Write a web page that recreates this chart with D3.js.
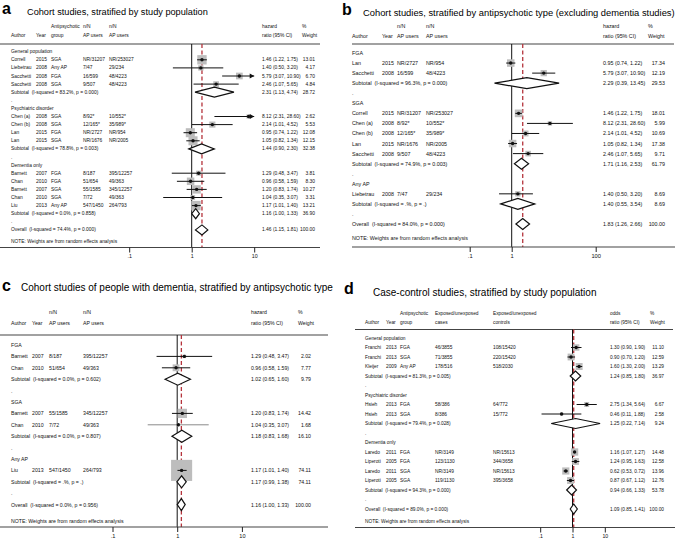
<!DOCTYPE html>
<html><head><meta charset="utf-8">
<script src="https://cdn.jsdelivr.net/npm/d3@7"></script>
<style>body{margin:0;background:#fff}svg{display:block}text{font-family:"Liberation Sans",Arial,sans-serif;white-space:pre}</style>
</head><body>
<script>
// ---------------- DATA ----------------
// Panel a
const aKind = ["g","s","s","s","s","t","b","g","s","s","s","s","t","b","g","s","s","s","s","s","t","b","o"];
const aAuthor = ["General population","Correll","Liebetrau","Sacchetti","Sacchetti","Subtotal  (I-squared = 83.2%, p = 0.000)",".","Psychiatric disorder","Chen (a)","Chen (b)","Lan","Lan","Subtotal  (I-squared = 78.8%, p = 0.003)",".","Dementia only","Barnett","Chan","Barnett","Chan","Liu","Subtotal  (I-squared = 0.0%, p = 0.858)",".","Overall  (I-squared = 74.4%, p = 0.000)"];
const aYear = ["","2015","2008","2008","2008","","","","2008","2008","2015","2015","","","","2007","2010","2007","2010","2013","","",""];
const aGroup = ["","SGA","Any AP","FGA","SGA","","","","SGA","SGA","FGA","SGA","","","","FGA","FGA","SGA","SGA","Any AP","","",""];
const aN1 = ["","NR/31207","7/47","16/599","9/507","","","","8/92*","12/165*","NR/2727","NR/1676","","","","8/187","51/654","55/1585","7/72","547/1450","","",""];
const aN2 = ["","NR/253027","29/234","48/4223","48/4223","","","","10/552*","35/989*","NR/954","NR/2005","","","","395/12257","49/363","345/12257","49/363","264/793","","",""];
const aHR = [null,1.46,1.40,5.79,2.46,2.31,null,null,8.12,2.14,0.95,1.05,1.44,null,null,1.29,0.96,1.20,1.04,1.17,1.16,null,1.46];
const aLo = [null,1.22,0.50,3.07,1.07,1.13,null,null,2.31,1.01,0.74,0.82,0.90,null,null,0.48,0.58,0.83,0.35,1.01,1.00,null,1.15];
const aHi = [null,1.75,3.20,10.90,5.65,4.74,null,null,28.60,4.52,1.22,1.34,2.30,null,null,3.47,1.59,1.74,3.07,1.40,1.33,null,1.81];
const aWt = [null,13.01,4.17,6.70,4.84,28.72,null,null,2.62,5.53,12.08,12.15,32.38,null,null,3.81,8.30,10.27,3.31,13.21,36.90,null,100.00];
const aHead1 = ["","","Antipsychotic","n/N","n/N","hazard","%"];
const aHead2 = ["Author","Year","group","AP users","AP users","ratio (95% CI)","Weight"];
const aTicks = [0.1,1,10];
const aTickLabels = [".1","1","10"];

// Panel b
const bKind = ["g","s","s","t","b","g","s","s","s","s","s","t","b","g","s","t","b","o"];
const bAuthor = ["FGA","Lan","Sacchetti","Subtotal  (I-squared = 96.3%, p = 0.000)",".","SGA","Correll","Chen (a)","Chen (b)","Lan","Sacchetti","Subtotal  (I-squared = 74.9%, p = 0.003)",".","Any AP","Liebetrau","Subtotal  (I-squared = .%, p = .)",".","Overall  (I-squared = 84.0%, p = 0.000)"];
const bYear = ["","2015","2008","","","","2015","2008","2008","2015","2008","","","","2008","","",""];
const bN1 = ["","NR/2727","16/599","","","","NR/31207","8/92*","12/165*","NR/1676","9/507","","","","7/47","","",""];
const bN2 = ["","NR/954","48/4223","","","","NR/253027","10/552*","35/989*","NR/2005","48/4223","","","","29/234","","",""];
const bHR = [null,0.95,5.79,2.29,null,null,1.46,8.12,2.14,1.05,2.46,1.71,null,null,1.40,1.40,null,1.83];
const bLo = [null,0.74,3.07,0.39,null,null,1.22,2.31,1.01,0.82,1.07,1.16,null,null,0.50,0.55,null,1.26];
const bHi = [null,1.22,10.90,13.45,null,null,1.75,28.60,4.52,1.34,5.65,2.53,null,null,3.20,3.54,null,2.66];
const bWt = [null,17.34,12.19,29.53,null,null,18.01,5.99,10.69,17.38,9.71,61.79,null,null,8.69,8.69,null,100.00];
const bHead1 = ["","","n/N","n/N","hazard","%"];
const bHead2 = ["Author","Year","AP users","AP users","ratio (95% CI)","Weight"];
const bTicks = [0.1,1,100];
const bTickLabels = [".1","1","100"];

// Panel c
const cKind = ["g","s","s","t","b","g","s","s","t","b","g","s","t","b","o"];
const cAuthor = ["FGA","Barnett","Chan","Subtotal  (I-squared = 0.0%, p = 0.602)",".","SGA","Barnett","Chan","Subtotal  (I-squared = 0.0%, p = 0.807)",".","Any AP","Liu","Subtotal  (I-squared = .%, p = .)",".","Overall  (I-squared = 0.0%, p = 0.956)"];
const cYear = ["","2007","2010","","","","2007","2010","","","","2013","","",""];
const cN1 = ["","8/187","51/654","","","","55/1585","7/72","","","","547/1450","","",""];
const cN2 = ["","395/12257","49/363","","","","345/12257","49/363","","","","264/793","","",""];
const cHR = [null,1.29,0.96,1.02,null,null,1.20,1.04,1.18,null,null,1.17,1.17,null,1.16];
const cLo = [null,0.48,0.58,0.65,null,null,0.83,0.35,0.83,null,null,1.01,0.99,null,1.00];
const cHi = [null,3.47,1.59,1.60,null,null,1.74,3.07,1.68,null,null,1.40,1.38,null,1.33];
const cWt = [null,2.02,7.77,9.79,null,null,14.42,1.68,16.10,null,null,74.11,74.11,null,100.00];
const cHead1 = ["","","n/N","n/N","hazard","%"];
const cHead2 = ["Author","Year","AP users","AP users","ratio (95% CI)","Weight"];
const cTicks = [0.1,1,10];
const cTickLabels = [".1","1","10"];

// Panel d
const dKind = ["g","s","s","s","t","b","g","s","s","t","b","g","s","s","s","s","t","b","o"];
const dAuthor = ["General population","Franchi","Franchi","Kleijer","Subtotal  (I-squared = 81.3%, p = 0.005)",".","Psychiatric disorder","Hsieh","Hsieh","Subtotal  (I-squared = 79.4%, p = 0.028)",".","Dementia only","Laredo","Liperoti","Laredo","Liperoti","Subtotal  (I-squared = 94.3%, p = 0.000)",".","Overall  (I-squared = 89.0%, p = 0.000)"];
const dYear = ["","2013","2013","2009","","","","2013","2013","","","","2011","2005","2011","2005","","",""];
const dGroup = ["","FGA","SGA","Any AP","","","","FGA","SGA","","","","FGA","FGA","SGA","SGA","","",""];
const dN1 = ["","46/3855","71/3855","178/516","","","","58/386","8/386","","","","NR/3149","123/1130","NR/3149","119/1130","","",""];
const dN2 = ["","108/15420","220/15420","518/2030","","","","64/772","15/772","","","","NR/15613","344/3658","NR/15613","395/3658","","",""];
const dHR = [null,1.30,0.90,1.60,1.24,null,null,2.75,0.46,1.25,null,null,1.16,1.24,0.62,0.87,0.94,null,1.09];
const dLo = [null,0.90,0.70,1.30,0.85,null,null,1.34,0.11,0.22,null,null,1.07,0.95,0.53,0.67,0.66,null,0.85];
const dHi = [null,1.90,1.20,2.00,1.80,null,null,5.64,1.88,7.14,null,null,1.27,1.63,0.72,1.12,1.33,null,1.41];
const dWt = [null,11.10,12.59,13.29,36.97,null,null,6.67,2.58,9.24,null,null,14.48,12.58,13.96,12.76,53.78,null,100.00];
const dHead1 = ["","","Antipsychotic","Exposed/unexposed","Exposed/unexposed","odds","%"];
const dHead2 = ["Author","Year","group","cases","controls","ratio (95% CI)","Weight"];
const dTicks = [0.1,1,10];
const dTickLabels = [".1","1","10"];

const noteText = "NOTE: Weights are from random effects analysis";

// ---------------- DRAWING ----------------
const svg = d3.select("body").append("svg").attr("width",685).attr("height",541);

function drawPanel(P){
  const g = svg.append("g");
  g.append("text").attr("x",P.letterX).attr("y",P.letterY).attr("font-size",P.letterSize)
    .attr("font-weight","bold").text(P.letter);
  g.append("text").attr("x",P.titleX).attr("y",P.titleY).attr("font-size",P.titleSize).text(P.title);
  const x = d3.scaleLog().domain(P.domain).range(P.range);
  const [dMin,dMax] = P.domain;
  const T = (xx,yy,s,anchor)=> g.append("text").attr("x",xx).attr("y",yy).attr("font-size",P.fs)
      .attr("dominant-baseline","central").attr("text-anchor",anchor||"start").attr("fill","#111").text(s);
  P.head1.forEach((h,i)=>{ T(P.hcols[i],P.h1y,h); T(P.hcols[i],P.h2y,P.head2[i]); });
  g.append("line").attr("x1",P.lineX1).attr("x2",P.lineX2).attr("y1",P.topY).attr("y2",P.topY)
    .attr("stroke","#444").attr("stroke-width",1.2);
  const yOf = i => P.row0 + i*P.dy;
  g.append("line").attr("x1",x(1)).attr("x2",x(1)).attr("y1",P.topY).attr("y2",P.axisY)
    .attr("stroke","#111").attr("stroke-width",1);
  const oi = P.kind.indexOf("o");
  g.append("line").attr("x1",x(P.hr[oi])).attr("x2",x(P.hr[oi])).attr("y1",P.topY).attr("y2",P.axisY)
    .attr("stroke","#b5343c").attr("stroke-width",1.3).attr("stroke-dasharray","4,2.5");
  const fmt = v => v.toFixed(2);
  P.kind.forEach((k,i)=>{
    const y = yOf(i);
    T(P.cols.author,y,P.author[i]);
    if(k==="s"){
      T(P.cols.year,y,P.year[i]);
      if(P.group) T(P.cols.group,y,P.group[i]);
      T(P.cols.n1,y,P.n1[i]);
      T(P.cols.n2,y,P.n2[i]);
    }
    if(k==="s"||k==="t"||k==="o"){
      T(P.cols.hr,y,fmt(P.hr[i])+" ("+fmt(P.lo[i])+", "+fmt(P.hi[i])+")");
      T(P.cols.wt,y,fmt(P.wt[i]),"end");
    }
    if(k==="s"){
      const s = P.k*Math.sqrt(P.wt[i]);
      const cx = x(P.hr[i]);
      g.append("rect").attr("x",cx-s/2).attr("y",y-s/2).attr("width",s).attr("height",s).attr("fill","#bdbdbd");
      const lo = Math.max(P.lo[i],dMin), hi = Math.min(P.hi[i],dMax);
      const col = (P.grayRows||[]).includes(i) ? "#8a8a8a" : "#111";
      g.append("line").attr("x1",x(lo)).attr("x2",x(hi)).attr("y1",y).attr("y2",y).attr("stroke",col).attr("stroke-width",1);
      if(P.hi[i]>dMax){
        const xe = x(dMax);
        g.append("path").attr("d",`M${xe},${y} L${xe-4.5},${y-2.6} L${xe-4.5},${y+2.6} Z`).attr("fill","#111");
      }
      g.append("circle").attr("cx",cx).attr("cy",y).attr("r",1.7).attr("fill","#111");
    }
    if(k==="t"||k==="o"){
      const h = P.dh;
      const pts = [[x(P.lo[i]),y],[x(P.hr[i]),y-h],[x(P.hi[i]),y],[x(P.hr[i]),y+h]];
      g.append("path").attr("d","M"+pts.map(p=>p.join(",")).join("L")+"Z")
        .attr("fill","#fff").attr("stroke","#111").attr("stroke-width",1.2);
    }
  });
  T(P.cols.author,P.noteY,noteText);
  g.append("line").attr("x1",P.lineX1).attr("x2",P.axX2).attr("y1",P.axisY).attr("y2",P.axisY)
    .attr("stroke","#444").attr("stroke-width",1.2);
  const ax = g.append("g").attr("transform",`translate(0,${P.axisY})`)
    .call(d3.axisBottom(x).tickValues(P.ticks).tickFormat((d,i)=>P.tickLabels[i]).tickSize(5).tickPadding(2));
  ax.select(".domain").remove();
  ax.selectAll("line").attr("stroke","#222");
  ax.selectAll("text").attr("font-size",P.fs+0.4).attr("font-family","Liberation Sans, Arial, sans-serif").attr("fill","#111");
}

drawPanel({letter:"a",letterX:2,letterY:14,letterSize:16,title:"Cohort studies, stratified by study population",
  titleX:27,titleY:15,titleSize:9.2,
  domain:[0.1,10],range:[129.2,254.2],
  fs:4.9,h1y:26.5,h2y:35.5,topY:44,lineX1:0,lineX2:320,axX2:320,
  row0:51.7,dy:8.1,noteY:241,axisY:247.5,k:2.6,dh:5,
  hcols:[11,36,51,83,109,262,302],
  cols:{author:11,year:36,group:51,n1:83,n2:109,hr:262,wt:315},
  head1:aHead1,head2:aHead2,kind:aKind,author:aAuthor,year:aYear,group:aGroup,n1:aN1,n2:aN2,
  hr:aHR,lo:aLo,hi:aHi,wt:aWt,ticks:aTicks,tickLabels:aTickLabels});

drawPanel({letter:"b",letterX:342,letterY:15,letterSize:16,title:"Cohort studies, stratified by antipsychotic type (excluding dementia studies)",
  titleX:363,titleY:16,titleSize:9.35,
  domain:[0.1,100],range:[469.7,595.7],
  fs:5.35,h1y:26,h2y:35.5,topY:44,lineX1:352,lineX2:674,axX2:675,
  row0:53,dy:10.06,noteY:238,axisY:247,k:1.8,dh:5.5,
  hcols:[352,382,397,426,603,648],
  cols:{author:352,year:382,n1:397,n2:426,hr:603,wt:665},
  head1:bHead1,head2:bHead2,kind:bKind,author:bAuthor,year:bYear,group:null,n1:bN1,n2:bN2,
  hr:bHR,lo:bLo,hi:bHi,wt:bWt,ticks:bTicks,tickLabels:bTickLabels});

drawPanel({letter:"c",letterX:2,letterY:291,letterSize:16,title:"Cohort studies of people with dementia, stratified by antipsychotic type",
  titleX:21,titleY:291,titleSize:10,
  domain:[0.1,10],range:[112.5,241.9],
  fs:5.2,h1y:312,h2y:322.5,topY:335,lineX1:0,lineX2:328,axX2:328,
  row0:345,dy:11.4,noteY:521,axisY:527,k:2.45,dh:6,grayRows:[7],
  hcols:[11,32,49,83,251,298],
  cols:{author:11,year:32,n1:49,n2:83,hr:251,wt:311},
  head1:cHead1,head2:cHead2,kind:cKind,author:cAuthor,year:cYear,group:null,n1:cN1,n2:cN2,
  hr:cHR,lo:cLo,hi:cHi,wt:cWt,ticks:cTicks,tickLabels:cTickLabels});

drawPanel({letter:"d",letterX:344,letterY:294,letterSize:16,title:"Case-control studies, stratified by study population",
  titleX:373,titleY:296,titleSize:10,
  domain:[0.1,10],range:[540.2,604.8],
  fs:4.8,h1y:313,h2y:322,topY:329.5,lineX1:355,lineX2:673,axX2:675,
  row0:338,dy:9.5,noteY:521.5,axisY:527.5,k:1.92,dh:5,
  hcols:[365,386,400,435,493,610,650],
  cols:{author:365,year:386,group:400,n1:435,n2:493,hr:610,wt:664},
  head1:dHead1,head2:dHead2,kind:dKind,author:dAuthor,year:dYear,group:dGroup,n1:dN1,n2:dN2,
  hr:dHR,lo:dLo,hi:dHi,wt:dWt,ticks:dTicks,tickLabels:dTickLabels});
</script>
</body></html>
